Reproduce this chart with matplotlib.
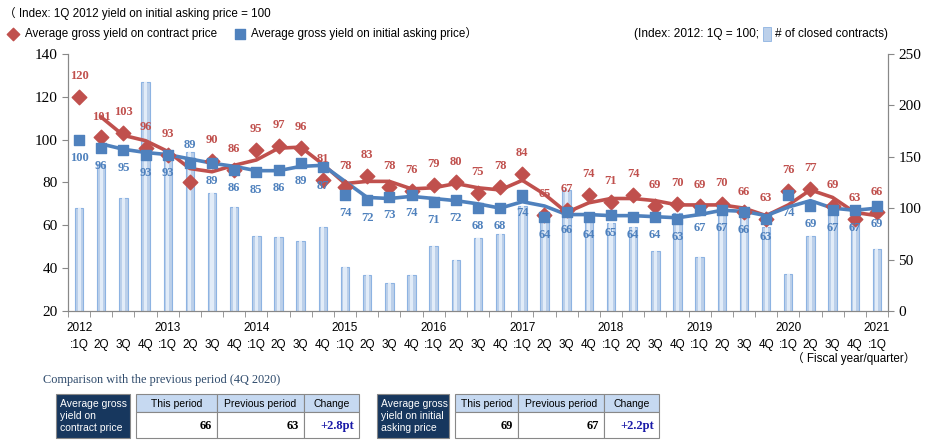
import numpy as np
import matplotlib
matplotlib.use('Agg')
import matplotlib.pyplot as plt
from matplotlib.patches import Rectangle

# ---- data ----
years = ['2012', '2013', '2014', '2015', '2016', '2017', '2018', '2019', '2020', '2021']
quarters = ['1Q', '2Q', '3Q', '4Q']
contract_yield = [120, 101, 103, 96, 93, 80, 90, 86, 95, 97, 96, 81, 78, 83, 78, 76,
                  79, 80, 75, 78, 84, 65, 67, 74, 71, 74, 69, 70, 69, 70, 66, 63,
                  76, 77, 69, 63, 66]
asking_yield = [100, 96, 95, 93, 93, 89, 89, 86, 85, 86, 89, 87, 74, 72, 73, 74,
                71, 72, 68, 68, 74, 64, 66, 64, 65, 64, 64, 63, 67, 67, 66, 63,
                74, 69, 67, 67, 69]
closed_contracts = [100, 143, 110, 223, 150, 155, 115, 101, 73, 72, 68, 82, 43, 35, 27, 35,
                    63, 50, 71, 75, 102, 95, 118, 92, 86, 82, 58, 95, 52, 98, 91, 82,
                    36, 73, 94, 88, 60]

table_cols = ['This period', 'Previous period', 'Change']
contract_row = ['66', '63', '+2.8pt']
asking_row = ['69', '67', '+2.2pt']

RED = '#c0504d'
BLUE = '#4f81bd'
BAR = '#bcd0ea'
BAR_LIGHT = '#e2ecf8'
BAR_EDGE = '#8db3e2'
NAVY = '#17375e'
HEAD = '#c6d9f1'
SANS = ['Liberation Sans', 'Noto Sans CJK JP', 'DejaVu Sans']
SERIF = ['Liberation Serif', 'DejaVu Serif']

n = len(contract_yield)
x = np.arange(n)
labels = []
for i in range(n):
    q = quarters[i % 4]
    labels.append(f"{years[i // 4]}\n:{q}" if q == '1Q' else f"\n{q}")

# 2-quarter moving averages (trend lines)
red_ma = np.convolve(contract_yield, [0.5, 0.5], mode='valid')
blue_ma = np.convolve(asking_yield, [0.5, 0.5], mode='valid')

fig = plt.figure(figsize=(9.39, 4.48), dpi=100)
ax = fig.add_axes([0.0724, 0.306, 0.8733, 0.5735])
ax2 = ax.twinx()
ax.set_zorder(ax2.get_zorder() + 1)
ax.patch.set_visible(False)

ax2.bar(x, closed_contracts, width=0.38, color=BAR, edgecolor=BAR_EDGE, linewidth=0.8)
ax2.bar(x, closed_contracts, width=0.14, color=BAR_LIGHT, linewidth=0)
ax2.set_ylim(0, 250)
ax2.set_yticks(range(0, 251, 50))

ax.plot(x[1:], red_ma, color=RED, lw=2.6, zorder=3)
ax.plot(x[1:], blue_ma, color=BLUE, lw=2.6, zorder=3)
ax.scatter(x, contract_yield, marker='D', s=55, color=RED, zorder=4)
ax.scatter(x, asking_yield, marker='s', s=55, color=BLUE, zorder=4)

for i in range(n):
    if i != 5:  # label hidden behind the bar in the original
        ax.annotate(str(contract_yield[i]), (x[i], contract_yield[i]), xytext=(0, 15),
                    textcoords='offset points', ha='center', va='center',
                    color=RED, fontsize=9, fontweight='bold', family=SERIF, zorder=5)
    dy = 13 if i == 5 else -13
    ax.annotate(str(asking_yield[i]), (x[i], asking_yield[i]), xytext=(0, dy),
                textcoords='offset points', ha='center', va='center',
                color=BLUE, fontsize=9, fontweight='bold', family=SERIF, zorder=5)

ax.set_xlim(-0.5, n - 0.5)
ax.set_ylim(20, 140)
ax.set_yticks(range(20, 141, 20))
ax.set_xticks(x)
ax.set_xticklabels(labels, fontsize=8.5, family=SANS, linespacing=1.6)
ax.set_xticks(np.arange(-0.5, n, 1), minor=True)
ax.tick_params(axis='x', which='major', length=0, pad=8)
ax.tick_params(axis='x', which='minor', length=4, color='#888888')
for a in (ax, ax2):
    a.tick_params(axis='y', labelsize=11, length=4, color='#888888')
    for lab in a.get_yticklabels():
        lab.set_family(SERIF)
    for s in a.spines.values():
        s.set_color('#888888')
    a.spines['top'].set_visible(False)

# ---- overlay for header text, legend and table ----
ov = fig.add_axes([0, 0, 1, 1])
ov.set_xlim(0, 939)
ov.set_ylim(448, 0)
ov.axis('off')

ov.text(4, 14, '（ Index: 1Q 2012 yield on initial asking price = 100', fontsize=8.4,
        family=SANS, va='center')
ov.scatter([13], [34], marker='D', s=40, color=RED)
ov.text(25, 34, 'Average gross yield on contract price', fontsize=8.4, family=SANS, va='center')
ov.scatter([240], [34], marker='s', s=45, color=BLUE)
ov.text(251, 34, 'Average gross yield on initial asking price）', fontsize=8.4,
        family=SANS, va='center')
ov.text(775, 34, '# of closed contracts)', fontsize=8.6, family=SANS, va='center')
ov.add_patch(Rectangle((763, 27), 8, 14, facecolor=BAR, edgecolor=BAR_EDGE, lw=0.6))
ov.text(759, 34, '(Index: 2012: 1Q = 100;', fontsize=8.6, family=SANS, va='center', ha='right')
ov.text(915, 359, '（ Fiscal year/quarter）', fontsize=8.4, family=SANS, va='center', ha='right')

ov.text(43, 380, 'Comparison with the previous period (4Q 2020)', fontsize=8.8,
        family=SERIF, color='#2e4a6b', va='center')


def draw_table(x0, name, col_x, row):
    top, mid, bot = 394, 412, 438
    ov.add_patch(Rectangle((x0, top), col_x[0] - x0 - 6, bot - top, facecolor=NAVY,
                           edgecolor='#888888', lw=0.8))
    ov.text(x0 + 4, (top + bot) / 2, name, color='white', fontsize=7.5, family=SANS,
            va='center', linespacing=1.25)
    for j in range(3):
        left, right = col_x[j], col_x[j + 1]
        ov.add_patch(Rectangle((left, top), right - left, mid - top, facecolor=HEAD,
                               edgecolor='#888888', lw=0.8))
        ov.add_patch(Rectangle((left, mid), right - left, bot - mid, facecolor='white',
                               edgecolor='#888888', lw=0.8))
        ov.text((left + right) / 2, (top + mid) / 2 + 1, table_cols[j], fontsize=7.5,
                family=SANS, ha='center', va='center')
        ov.text(right - 5, (mid + bot) / 2 + 1, row[j], fontsize=9, family=SERIF,
                fontweight='bold', ha='right', va='center',
                color='#1a1aa8' if j == 2 else 'black')


draw_table(56, 'Average gross\nyield on\ncontract price', [136, 217, 304, 359], contract_row)
draw_table(377, 'Average gross\nyield on initial\nasking price', [455, 518, 604, 659], asking_row)

fig.savefig('out.png', dpi=100)
